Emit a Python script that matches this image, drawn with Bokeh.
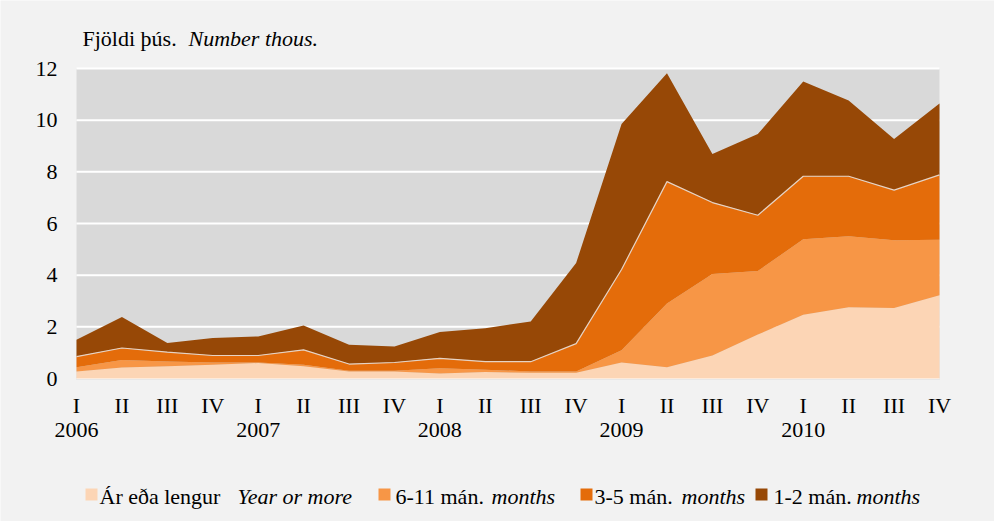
import numpy as np
from bokeh.plotting import figure
from bokeh.models import ColumnDataSource, Range1d
from bokeh.core.properties import value
from bokeh.embed import file_html
from bokeh.resources import INLINE

# ---------------- data ----------------
quarter_labels = ["I", "II", "III", "IV", "I", "II", "III", "IV", "I", "II",
                  "III", "IV", "I", "II", "III", "IV", "I", "II", "III", "IV"]
year_labels = ["2006", "2007", "2008", "2009", "2010"]
year_positions = [0, 4, 8, 12, 16]

year_or_more = [0.27, 0.43, 0.47, 0.53, 0.60, 0.47, 0.27, 0.27, 0.19, 0.25,
                0.22, 0.22, 0.62, 0.44, 0.89, 1.70, 2.47, 2.76, 2.73, 3.22]
m6_11 = [0.17, 0.29, 0.19, 0.09, 0.02, 0.06, 0.03, 0.03, 0.21, 0.09,
         0.05, 0.05, 0.47, 2.46, 3.16, 2.46, 2.92, 2.75, 2.62, 2.15]
m3_5 = [0.41, 0.46, 0.36, 0.27, 0.27, 0.58, 0.26, 0.32, 0.38, 0.31,
        0.38, 1.08, 3.13, 4.72, 2.76, 2.16, 2.44, 2.32, 1.94, 2.51]
m1_2 = [0.65, 1.20, 0.35, 0.68, 0.74, 0.94, 0.75, 0.62, 1.02, 1.30,
        1.56, 3.12, 5.63, 4.20, 1.88, 3.14, 3.67, 2.93, 1.98, 2.77]

series_names = ["year_or_more", "m6_11", "m3_5", "m1_2"]
series_colors = ["#FCD5B5", "#F79646", "#E46C0A", "#974806"]
legend_main = ["Ár eða lengur", "6-11 mán.", "3-5 mán.", "1-2 mán."]
legend_italic = ["Year or more", "months", "months", "months"]
title_main = "Fjöldi þús."
title_italic = "Number thous."
y_ticks = [0, 2, 4, 6, 8, 10, 12]

# ---------------- layout / styling ----------------
FONT = value("Liberation Serif")
FS = value("22px")
W, H = 994, 521
F_LEFT, F_RIGHT, F_TOP, F_BOTTOM = 76, 939, 68, 378   # plot-area pixels
OUTER = "#F2F2F2"
INNER = "#D9D9D9"

NX = len(quarter_labels) - 1
YMAX = max(y_ticks)
SX = (F_RIGHT - F_LEFT) / NX        # px per quarter
SY = (F_BOTTOM - F_TOP) / YMAX      # px per thousand


def dx(px):
    return (px - F_LEFT) / SX


def dy(py):
    return (F_BOTTOM - py) / SY


x = np.arange(len(quarter_labels))
cum3 = np.array(year_or_more) + np.array(m6_11) + np.array(m3_5)
source = ColumnDataSource(dict(x=x, year_or_more=year_or_more, m6_11=m6_11,
                               m3_5=m3_5, m1_2=m1_2, cum3=cum3))

# the frame covers the whole canvas; ranges are chosen so that the data
# region (0..19, 0..12) falls exactly on the reference's plot area
p = figure(width=W, height=H,
           x_range=Range1d(dx(0), dx(W)), y_range=Range1d(dy(H), dy(0)),
           x_axis_type=None, y_axis_type=None,
           output_backend="svg", toolbar_location=None, min_border=0)
p.background_fill_color = OUTER
p.border_fill_color = OUTER
p.outline_line_color = None

# plot area background
p.quad(left=[0], right=[NX], bottom=[0], top=[YMAX], fill_color=INNER,
       line_color=None)
# baseline strip under the areas
p.line(x=[0, NX], y=[0, 0], line_color="#CFCFCF", line_width=3)
# horizontal gridlines
p.multi_line(xs=[[0, NX] for _ in y_ticks], ys=[[t, t] for t in y_ticks],
             line_color="white", line_width=2)

# stacked areas
p.varea_stack(series_names, x="x", color=series_colors, source=source)
p.line(x="x", y="cum3", source=source, line_color="#E6D3C4", line_width=1.2)

# y tick labels
p.text(x=[dx(57)] * len(y_ticks), y=y_ticks, text=[str(t) for t in y_ticks],
       text_font=FONT, text_font_size=FS, text_color="black",
       text_align="right", text_baseline="alphabetic", y_offset=0)

# x tick labels (quarters and years)
p.text(x=list(x), y=[dy(405)] * len(x), text=quarter_labels,
       text_font=FONT, text_font_size=FS, text_color="black",
       text_align="center", text_baseline="alphabetic")
p.text(x=year_positions, y=[dy(429)] * len(year_positions), text=year_labels,
       text_font=FONT, text_font_size=FS, text_color="black",
       text_align="center", text_baseline="alphabetic")

# title (upright + italic)
p.text(x=[dx(82)], y=[dy(38)], text=[title_main], text_font=FONT,
       text_font_size=FS, text_color="black", text_baseline="alphabetic")
p.text(x=[dx(188)], y=[dy(38)], text=[title_italic], text_font=FONT,
       text_font_size=FS, text_font_style="italic", text_color="black",
       text_baseline="alphabetic")

# legend
sq_cx = [91, 384, 586, 761]
txt_main_x = [99, 395, 594, 773]
txt_ital_x = [237, 491, 681, 856]
p.rect(x=[dx(v) for v in sq_cx], y=[dy(494)] * 4, width=12, height=12,
       width_units="screen", height_units="screen",
       fill_color=series_colors, line_color=None)
p.text(x=[dx(v) for v in txt_main_x], y=[dy(496)] * 4, text=legend_main,
       text_font=FONT, text_font_size=FS, text_color="black",
       text_baseline="alphabetic")
p.text(x=[dx(v) for v in txt_ital_x], y=[dy(496)] * 4, text=legend_italic,
       text_font=FONT, text_font_size=FS, text_font_style="italic",
       text_color="black", text_baseline="alphabetic")

open("out.html", "w").write(file_html(p, INLINE))
